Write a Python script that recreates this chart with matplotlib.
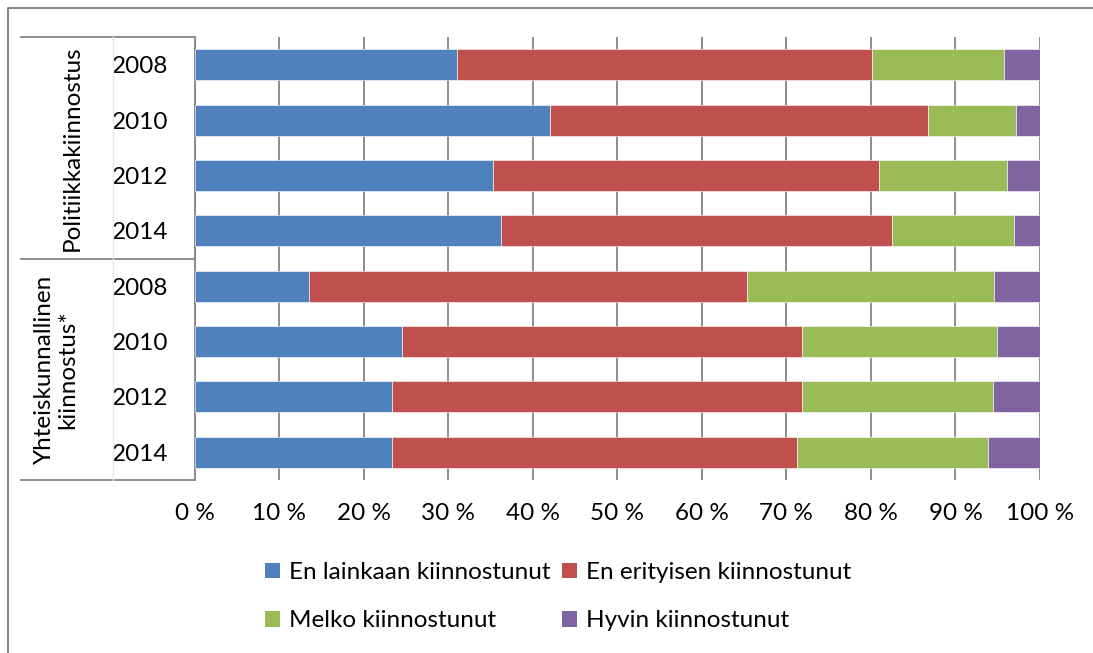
import matplotlib
matplotlib.use("Agg")
import matplotlib.pyplot as plt
import numpy as np
from matplotlib.patches import Patch
from matplotlib.lines import Line2D
from matplotlib.transforms import blended_transform_factory

plt.rcParams['font.family'] = ['Lato', 'DejaVu Sans']

groups = ["Politiikkakiinnostus", "Yhteiskunnallinen\nkiinnostus*"]
years = ["2008", "2010", "2012", "2014", "2008", "2010", "2012", "2014"]
series_names = ["En lainkaan kiinnostunut", "En erityisen kiinnostunut",
                "Melko kiinnostunut", "Hyvin kiinnostunut"]
en_lainkaan = [31.1, 42.0, 35.3, 36.2, 13.6, 24.5, 23.3, 23.4]
en_erityisen = [49.0, 44.8, 45.7, 46.3, 51.7, 47.4, 48.5, 47.9]
melko = [15.6, 10.4, 15.1, 14.4, 29.3, 23.0, 22.7, 22.6]
hyvin = [4.3, 2.8, 3.9, 3.1, 5.4, 5.1, 5.5, 6.1]
xticks = [0, 10, 20, 30, 40, 50, 60, 70, 80, 90, 100]
xticklabels = [f"{v} %" for v in xticks]

colors = ["#4F81BD", "#C0504D", "#9BBB59", "#8064A2"]
grid_c = "#868686"
fs = 17.5

fig = plt.figure(figsize=(10.93, 6.53), dpi=100)
W, H = 1093, 653
ax = fig.add_axes([194.5 / W, 1 - 480 / H, (1040 - 194.5) / W, (480 - 37) / H])

y = np.arange(len(years))
data = [en_lainkaan, en_erityisen, melko, hyvin]
left = np.zeros(len(years))
handles = []
for vals, c, name in zip(data, colors, series_names):
    vals = np.array(vals)
    ax.barh(y, vals, left=left, height=0.56, color=c, edgecolor="white",
            linewidth=0.4, zorder=3, label=name)
    left += vals
    handles.append(Patch(facecolor=c, label=name))

ax.set_xlim(0, 100)
ax.set_ylim(len(years) - 0.5, -0.5)
ax.set_xticks(xticks)
ax.set_xticklabels(xticklabels, fontsize=fs)
ax.tick_params(axis="x", length=0, pad=16.5)
ax.set_yticks(y)
ax.set_yticklabels(years, fontsize=fs)
ax.tick_params(axis="y", length=0, pad=19)
ax.grid(axis="x", color=grid_c, linewidth=1.3, zorder=0)
for s in ["top", "right", "bottom"]:
    ax.spines[s].set_visible(False)
ax.spines["left"].set_color(grid_c)
ax.spines["left"].set_linewidth(1.3)

# group labels
tr = blended_transform_factory(fig.transFigure, ax.transData)
ax.text(72 / W, 1.5, groups[0], rotation=90, ha="center", va="center",
        fontsize=fs, transform=tr, clip_on=False)
ax.text(56 / W, 5.5, groups[1], rotation=90, ha="center", va="center",
        fontsize=fs, transform=tr, clip_on=False, linespacing=1.1)

# table lines on the left
trl = blended_transform_factory(fig.transFigure, ax.transAxes)
for yy in [1.0, 0.5, 0.0]:
    fig.add_artist(Line2D([21 / W, 194.5 / W], [yy, yy], transform=trl,
                          color=grid_c, linewidth=1.3))
fig.add_artist(Line2D([113 / W, 113 / W], [0, 1], transform=trl,
                      color="#E8E8E8", linewidth=1.0))

# outer frame
fig.add_artist(Line2D([7.5 / W, 7.5 / W, 1.0], [0, 1 - 8 / H, 1 - 8 / H],
                      transform=fig.transFigure, color=grid_c, linewidth=1.5))

order = [0, 2, 1, 3]
fig.legend([handles[i] for i in order], [series_names[i] for i in order],
           ncol=2, loc="upper left", bbox_to_anchor=(265 / W, 1 - 562 / H),
           frameon=False, fontsize=fs, handlelength=0.62, handleheight=0.62,
           handletextpad=0.35, columnspacing=0.5, labelspacing=1.12,
           borderpad=0, borderaxespad=0)

fig.savefig("out.png", dpi=100)
